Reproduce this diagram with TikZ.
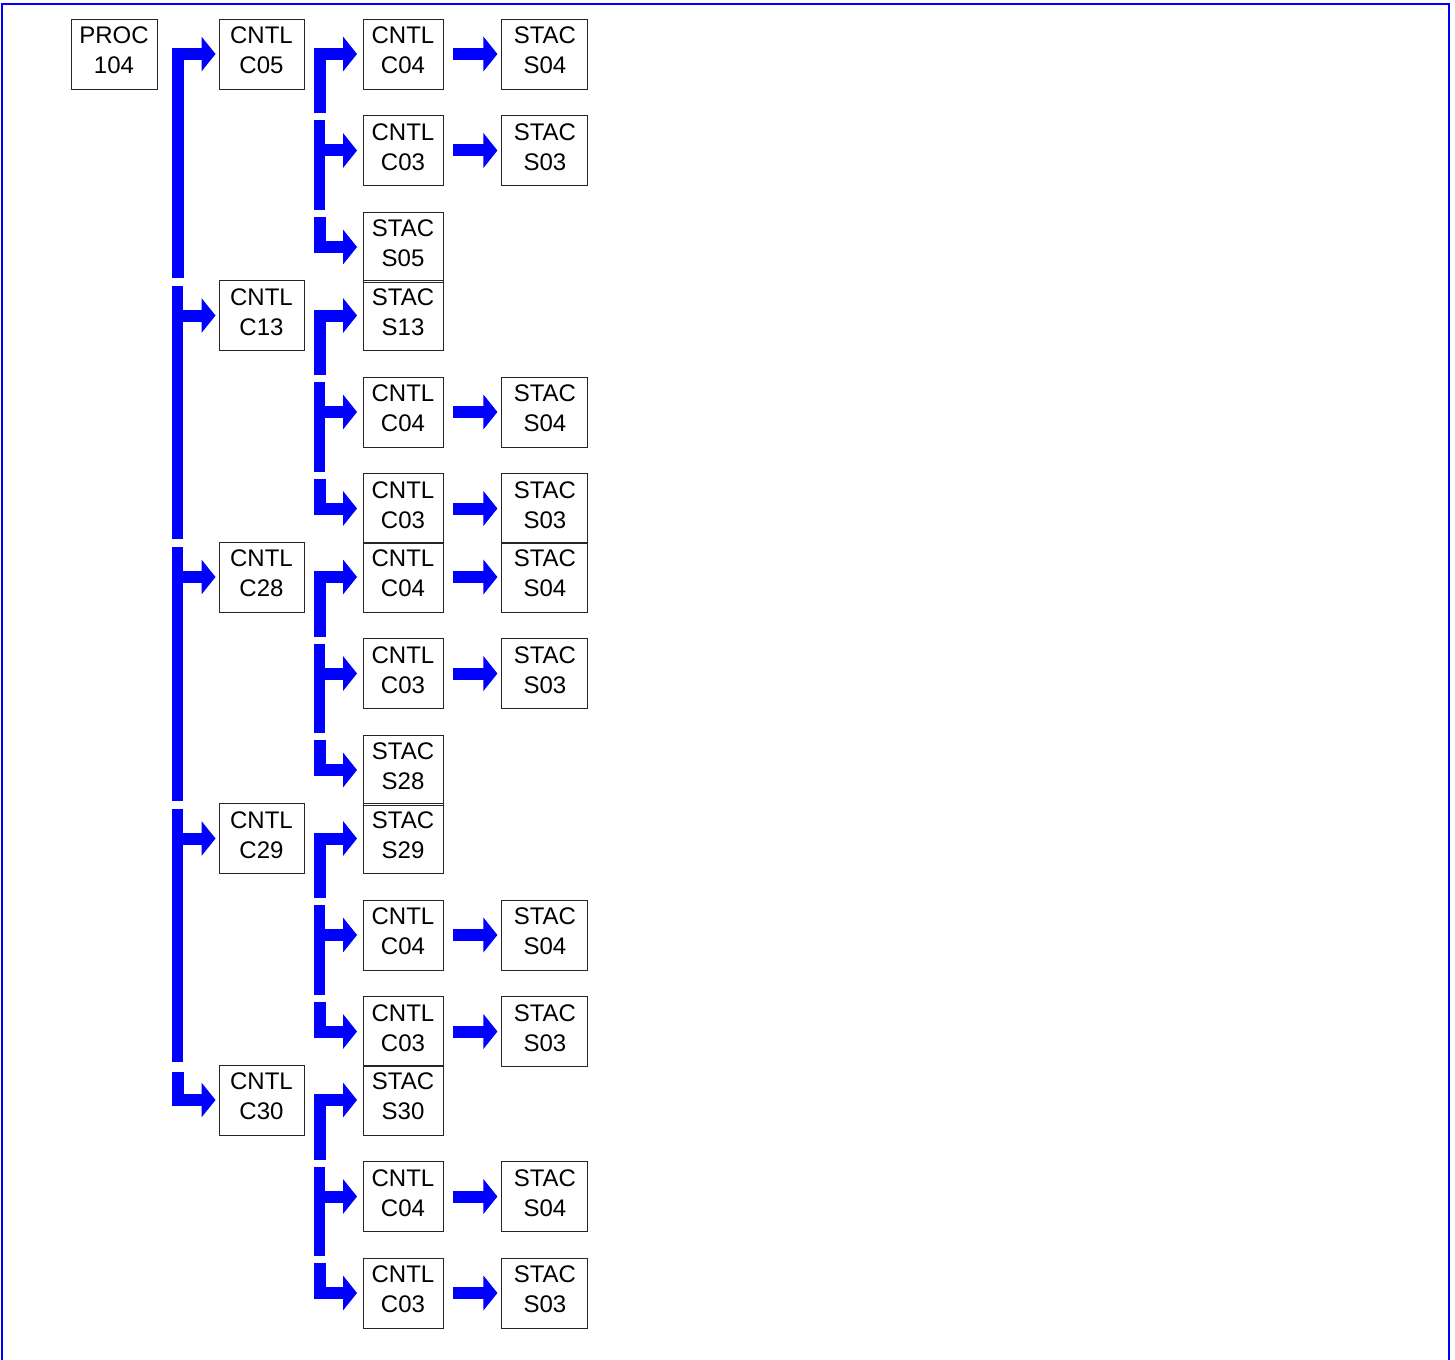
\documentclass[tikz,border=0pt]{standalone}
\usepackage{fontspec}
\setmainfont{Liberation Sans}
\usetikzlibrary{arrows.meta,positioning}

\newcommand\lowdp{\rule[-7pt]{0pt}{7pt}}

\begin{document}
\begin{tikzpicture}[x=1pt, y=-1pt,
  b/.style={draw=black!85, line width=0.9pt, minimum height=70pt, inner sep=0pt,
    align=center, font=\fontsize{24}{30}\selectfont},
  bus/.style={draw=blue, line width=11.5pt},
  a/.style={blue, line width=12pt, -{Triangle[length=14pt,width=34pt]}}]
  \useasboundingbox (0,0) rectangle (1455,1359);
  \draw[blue, line width=1.5pt] (2,1370) -- (2,4) -- (1449,4) -- (1449,1370);

  \node[b, minimum width=86pt] (p) at (114,54) {PROC\\104\lowdp};
  % second level
  \foreach \g/\c in {0/C05,1/C13,2/C28,3/C29,4/C30}
    \node[b, minimum width=85pt] (g\g) at (261.5,{54+261.5*\g}) {CNTL\\\c\lowdp};
  % third level
  \foreach \r/\t in {1/CNTL\\C04,2/CNTL\\C03,3/STAC\\S05,4/STAC\\S13,5/CNTL\\C04,
      6/CNTL\\C03,7/CNTL\\C04,8/CNTL\\C03,9/STAC\\S28,10/STAC\\S29,11/CNTL\\C04,
      12/CNTL\\C03,13/STAC\\S30,14/CNTL\\C04,15/CNTL\\C03}{
    \pgfmathsetmacro\ym{54+261.5*int((\r-1)/3)+96.5*mod(\r-1,3)}
    \node[b, minimum width=80pt] (m\r) at (403,\ym) {\t\lowdp};
  }
  % fourth level
  \foreach \r/\t in {1/S04,2/S03,5/S04,6/S03,7/S04,8/S03,11/S04,12/S03,14/S04,15/S03}{
    \node[b, minimum width=86pt, right=58pt of m\r] (s\r) {STAC\\\t\lowdp};
    \draw[a, shorten <=10pt, shorten >=4pt] (m\r) -- (s\r);
  }

  % bus from the root column
  \coordinate (t0) at (177.5,277.5);
  \draw[a, shorten >=3pt] (t0) |- (g0);
  \foreach \g in {1,2,3}{
    \pgfmathsetmacro\yc{54+261.5*\g}
    \coordinate (t\g) at (177.5,\yc-30);
    \coordinate (e\g) at (177.5,\yc+261.5-38);
    \coordinate (h\g) at (171.75,\yc);
    \draw[bus] (t\g) -- (e\g);
    \draw[a, shorten >=3pt] (h\g) -- (g\g);
  }
  \coordinate (t4) at (177.5,1071.5);
  \draw[a, shorten >=3pt] (t4) |- (g4);

  % buses from the second column
  \foreach \g in {0,...,4}{
    \pgfmathsetmacro\yc{54+261.5*\g}
    \pgfmathtruncatemacro\ra{3*\g+1}
    \pgfmathtruncatemacro\rb{3*\g+2}
    \pgfmathtruncatemacro\rc{3*\g+3}
    \coordinate (u\g) at (319.5,\yc+59.5);
    \coordinate (v\g) at (319.5,\yc+66.5);
    \coordinate (w\g) at (319.5,\yc+156);
    \coordinate (k\g) at (313.75,\yc+96.5);
    \coordinate (z\g) at (319.5,\yc+163);
    \draw[a, shorten >=5.5pt] (u\g) |- (m\ra);
    \draw[bus] (v\g) -- (w\g);
    \draw[a, shorten >=5.5pt] (k\g) -- (m\rb);
    \draw[a, shorten >=5.5pt] (z\g) |- (m\rc);
  }
\end{tikzpicture}
\end{document}
